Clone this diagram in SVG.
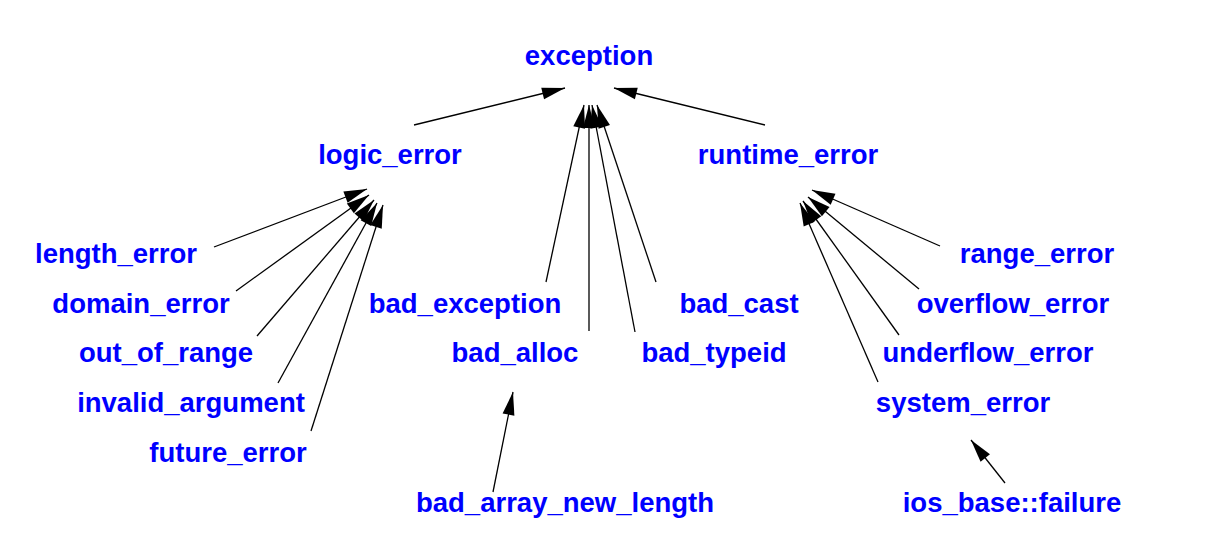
<svg xmlns="http://www.w3.org/2000/svg" width="1225" height="544" viewBox="0 0 1225 544">
<style>
text{font-family:"Liberation Sans",Arial,Helvetica,sans-serif;font-weight:bold;font-size:27.5px;fill:#0000ff;text-anchor:middle}
.e line{stroke:#000;stroke-width:1.3;marker-end:url(#ah)}
</style>
<defs>
<marker id="ah" markerUnits="userSpaceOnUse" markerWidth="26" markerHeight="14" refX="23" refY="6" orient="auto" overflow="visible">
<path d="M0,0 L23,6 L0,12 z" fill="#000"/>
</marker>
</defs>
<rect width="1225" height="544" fill="#fff"/>
<g class="e" id="connectors">
<line x1="414" y1="125" x2="565" y2="88"/>
<line x1="765" y1="125" x2="614" y2="88"/>
<line x1="546" y1="282" x2="584" y2="105"/>
<line x1="589" y1="331" x2="589" y2="105"/>
<line x1="635" y1="332" x2="592" y2="105"/>
<line x1="656" y1="282" x2="597" y2="105"/>
<line x1="214" y1="247" x2="367" y2="189"/>
<line x1="236" y1="291" x2="369" y2="195"/>
<line x1="257" y1="336" x2="374" y2="200"/>
<line x1="278" y1="383" x2="377" y2="203"/>
<line x1="311" y1="431" x2="383" y2="205"/>
<line x1="940" y1="246" x2="812" y2="190"/>
<line x1="919" y1="289" x2="808" y2="197"/>
<line x1="899" y1="335" x2="803" y2="201"/>
<line x1="878" y1="382" x2="800" y2="203"/>
<line x1="493" y1="492" x2="513" y2="392"/>
<line x1="1005" y1="483" x2="971" y2="440"/>
</g>
<g id="exception"><text x="589" y="65">exception</text></g>
<g id="logic_error"><text x="390" y="164">logic_error</text></g>
<g id="runtime_error"><text x="788" y="164">runtime_error</text></g>
<g id="length_error"><text x="116" y="263">length_error</text></g>
<g id="domain_error"><text x="141" y="313">domain_error</text></g>
<g id="out_of_range"><text x="166" y="362">out_of_range</text></g>
<g id="invalid_argument"><text x="191" y="412">invalid_argument</text></g>
<g id="future_error"><text x="228" y="462">future_error</text></g>
<g id="bad_exception"><text x="465" y="313">bad_exception</text></g>
<g id="bad_alloc"><text x="515" y="362">bad_alloc</text></g>
<g id="bad_cast"><text x="739" y="313">bad_cast</text></g>
<g id="bad_typeid"><text x="714" y="362">bad_typeid</text></g>
<g id="bad_array_new_length"><text x="565" y="512">bad_array_new_length</text></g>
<g id="range_error"><text x="1037" y="263">range_error</text></g>
<g id="overflow_error"><text x="1013" y="313">overflow_error</text></g>
<g id="underflow_error"><text x="988" y="362">underflow_error</text></g>
<g id="system_error"><text x="963" y="412">system_error</text></g>
<g id="ios_base_failure"><text x="1012" y="512">ios_base::failure</text></g>
</svg>
